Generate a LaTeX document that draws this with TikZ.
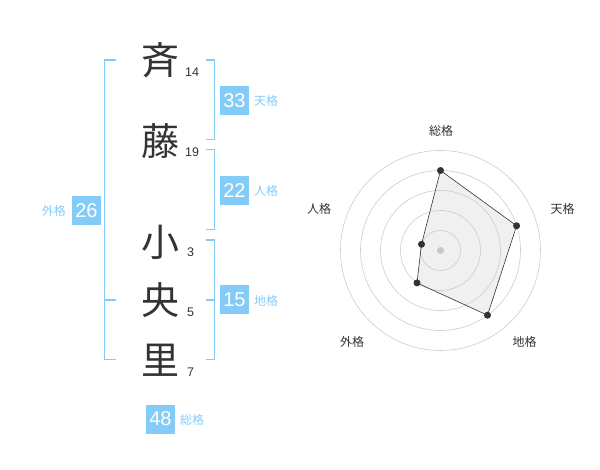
\documentclass[tikz,border=0pt]{standalone}
\usepackage{fontspec}
\setmainfont{Liberation Sans}
\newfontfamily\cjk{Noto Sans CJK JP}
\definecolor{bl}{HTML}{84CCF8}
\definecolor{txt}{HTML}{333333}
\tikzset{
  brk/.style={draw=bl, line width=1.6pt},
  kanji/.style={font=\cjk\fontsize{38}{38}\selectfont, text=txt, inner sep=0pt},
  strokes/.style={font=\fontsize{12.5}{12.5}\selectfont, text=txt, inner sep=0pt, anchor=base west},
  numbox/.style={fill=bl, text=white, minimum width=29pt, minimum height=29pt, inner sep=0pt, font=\fontsize{20}{20}\selectfont},
  kaku/.style={font=\cjk\fontsize{12}{12}\selectfont, text=bl, inner sep=0pt},
  rlabel/.style={font=\cjk\fontsize{12}{12}\selectfont, text=txt, inner sep=0pt},
  ring/.style={draw=black!20, line width=0.6pt},
  dot/.style={circle, fill=txt, inner sep=0pt, minimum size=7pt}
}
\begin{document}
\begin{tikzpicture}[x=1pt,y=-1pt]
\useasboundingbox (0,0) rectangle (600,470);
% characters
\node[kanji] (c1) at (160,60) {斉};
\node[kanji] (c2) at (160,141) {藤};
\node[kanji] (c3) at (160,242) {小};
\node[kanji] (c4) at (160,300) {央};
\node[kanji] (c5) at (160,360) {里};
\node[strokes] (n1) at (185,77) {14};
\node[strokes] (n2) at (185,157) {19};
\node[strokes] (n3) at (187,257) {3};
\node[strokes] (n4) at (187,317) {5};
\node[strokes] (n5) at (187,377) {7};
% brackets
\draw[brk] (116,60) -- (104.5,60) -- (104.5,359.5) -- (116,359.5);
\draw[brk] (104.5,300) -- (116,300);
\draw[brk] (205.5,60) -- (214.5,60) -- (214.5,139.5) -- (205.5,139.5);
\draw[brk] (205.5,149.5) -- (214.5,149.5) -- (214.5,229.5) -- (205.5,229.5);
\draw[brk] (205.5,240) -- (214.5,240) -- (214.5,359.5) -- (205.5,359.5);
\draw[brk] (205.5,300) -- (214.5,300);
% boxes
\node[numbox] (b1) at (234.5,100.5) {33};
\node[kaku, anchor=west] (k1) at (254,101) {天格};
\node[numbox] (b2) at (234.5,190.5) {22};
\node[kaku, anchor=west] (k2) at (254,191) {人格};
\node[numbox] (b3) at (234.5,300) {15};
\node[kaku, anchor=west] (k3) at (254,301) {地格};
\node[numbox] (b4) at (86.5,210.5) {26};
\node[kaku, anchor=east] (k4) at (66,211) {外格};
\node[numbox] (b5) at (160.5,419) {48};
\node[kaku, anchor=west] (k5) at (180,420) {総格};
% radar
\coordinate (O) at (440.5,250.5);
\path (O) ++(0,-80) coordinate (pS);
\path (O) ++(76.1,-24.7) coordinate (pT);
\path (O) ++(47.0,64.7) coordinate (pC);
\path (O) ++(-23.5,32.4) coordinate (pG);
\path (O) ++(-19.0,-6.2) coordinate (pJ);
\fill[black!6] (pS) -- (pT) -- (pC) -- (pG) -- (pJ) -- cycle;
\foreach \r in {20,40,60,80,100} \draw[ring] (O) circle[radius=\r];
\fill[black!22] (O) circle[radius=3.5];
\draw[draw=txt, line width=0.6pt] (pS) -- (pT) -- (pC) -- (pG) -- (pJ) -- cycle;
\foreach \p in {pS,pT,pC,pG,pJ} \node[dot] at (\p) {};
\node[rlabel] (l1) at (441,130.5) {総格};
\node[rlabel] (l2) at (562.5,209) {天格};
\node[rlabel] (l3) at (524.5,342) {地格};
\node[rlabel] (l4) at (352,342) {外格};
\node[rlabel] (l5) at (319,209) {人格};
\end{tikzpicture}
\end{document}
